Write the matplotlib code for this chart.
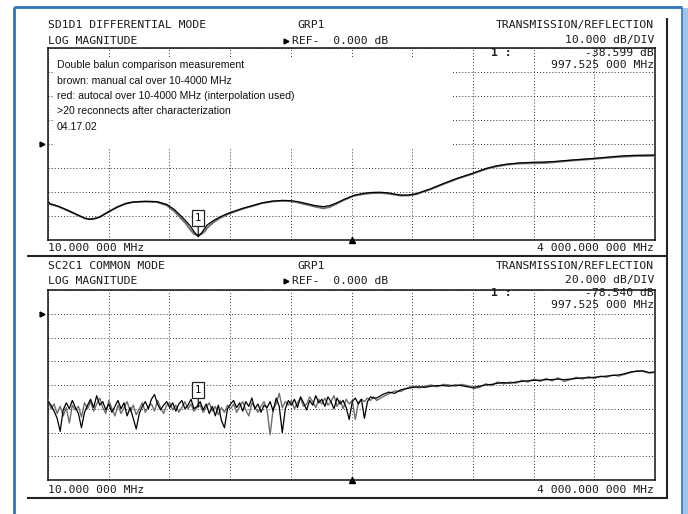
import numpy as np
import matplotlib
matplotlib.use("Agg")
import matplotlib.pyplot as plt
from matplotlib.lines import Line2D
from matplotlib.patches import Rectangle

# ---------------- data ----------------
F_START, F_STOP = 10.0, 4000.0
freq_ticks = np.linspace(F_START, F_STOP, 11)

# upper panel: differential mode, 10 dB/div, ref 0 dB
diff_freq = [10, 25, 45, 80, 135, 180, 220, 255, 286, 320, 352, 400, 463, 520, 569,
             650, 726, 792, 840, 878, 915, 943, 970, 997, 1020, 1042, 1055, 1100, 1141,
             1190, 1226, 1290, 1357, 1420, 1489, 1550, 1601, 1650, 1700, 1760, 1818,
             1860, 1897, 1930, 1956, 2021, 2080, 2133, 2190, 2238, 2290, 2330, 2380,
             2429, 2520, 2613, 2700, 2797, 2850, 2896, 2960, 3027, 3110, 3204, 3270,
             3336, 3450, 3599, 3690, 3776, 3880, 4000]
diff_black = [-24.0, -25.0, -25.3, -26.0, -27.5, -28.8, -30.0, -31.0, -31.4, -31.1,
              -30.4, -28.6, -26.4, -24.9, -24.2, -23.9, -24.0, -25.2, -27.3, -29.6,
              -32.0, -34.0, -36.5, -38.6, -37.0, -35.0, -33.8, -31.8, -30.4, -29.0,
              -28.2, -26.8, -25.6, -24.5, -23.8, -23.5, -23.6, -24.0, -24.7, -25.6,
              -26.1, -25.7, -24.8, -23.9, -23.1, -21.4, -20.6, -20.2, -20.1, -20.3,
              -20.9, -21.3, -21.3, -20.8, -18.8, -16.4, -14.3, -12.3, -11.1, -10.1,
              -9.1, -8.4, -7.9, -7.6, -7.5, -7.3, -6.7, -6.0, -5.5, -5.0, -4.7, -4.6]
diff_gray = [-24.1, -25.1, -25.4, -26.1, -27.6, -28.9, -30.1, -31.0, -31.3, -31.0,
             -30.3, -28.5, -26.3, -24.8, -24.2, -24.0, -24.2, -25.6, -28.0, -30.6,
             -33.0, -35.5, -37.5, -38.0, -37.5, -36.3, -35.0, -32.5, -30.8, -29.3,
             -28.4, -27.0, -25.8, -24.6, -23.9, -23.7, -23.8, -24.3, -25.1, -26.0,
             -26.8, -26.3, -25.2, -24.1, -23.3, -21.6, -20.9, -20.5, -20.4, -20.6,
             -21.1, -21.5, -21.4, -20.9, -19.0, -16.6, -14.5, -12.5, -11.3, -10.3,
             -9.3, -8.6, -8.1, -8.0, -7.9, -7.6, -6.9, -6.2, -5.7, -5.3, -5.0, -4.9]
diff_marker_f, diff_marker_db = 997.525, -38.599

# lower panel: common mode, 20 dB/div, ref 0 dB
cm_noisy_black = [-74, -77, -82, -88, -99, -81, -75, -80, -73, -79,
                  -84, -96, -83, -77, -72, -79, -69, -77, -74, -81,
                  -76, -83, -78, -73, -80, -75, -86, -79, -88, -97,
                  -84, -78, -74, -80, -72, -68, -76, -81, -77, -74,
                  -79, -75, -82, -76, -73, -80, -77, -72, -80, -78,
                  -74, -81, -76, -84, -78, -86, -77, -90, -96, -80,
                  -76, -73, -79, -75, -82, -74, -78, -71, -80, -76,
                  -83, -77, -79, -74, -82, -71, -78, -100, -80, -73,
                  -77, -72, -79, -70, -75, -81, -73, -77, -69, -75,
                  -72, -78, -70, -74, -80, -71, -76, -73, -79, -89,
                  -74, -71, -76, -72, -88, -74, -70, -71]
cm_noisy_gray = [-72, -80, -76, -84, -78, -86, -79, -92, -77, -81,
                 -78, -87, -75, -80, -74, -82, -76, -71, -79, -84,
                 -73, -80, -86, -77, -84, -79, -74, -82, -77, -85,
                 -80, -75, -83, -78, -76, -82, -73, -79, -84, -77,
                 -75, -81, -77, -83, -79, -74, -80, -76, -82, -79,
                 -77, -83, -79, -75, -82, -78, -85, -79, -83, -77,
                 -80, -76, -83, -78, -74, -81, -86, -75, -79, -83,
                 -78, -74, -81, -102, -80, -76, -67, -79, -74, -77,
                 -73, -80, -75, -71, -78, -76, -70, -74, -79, -72,
                 -76, -71, -77, -74, -69, -78, -73, -80, -72, -76,
                 -73, -89, -75, -72, -74, -71, -73, -70]
cm_smooth_black = [-71, -68, -66, -67, -64, -63, -62, -61.5, -62, -61,
                   -60.5, -60.5, -61, -60, -60.5, -61.5, -62, -61, -60, -59.5,
                   -58.5, -58, -58.5, -57.5, -57, -56.5, -56, -56, -55.5, -55.5,
                   -55, -55.5, -55, -54.5, -54, -54, -53.5, -53, -52.5, -52,
                   -51.5, -50.5, -49, -48.5, -48, -49.5, -49]
cm_smooth_gray = [-73, -70, -67.5, -65, -65.5, -62.5, -61, -62.5, -61, -60,
                  -61.5, -59.5, -60, -61, -59.5, -60.5, -63, -62, -59, -60.5,
                  -57.5, -59, -57.5, -58.5, -56, -57.5, -55, -57, -54.5, -56.5,
                  -54, -57, -55.5, -53.5, -55, -53, -54.5, -52.5, -53.5, -51.5,
                  -52.5, -51, -49.5, -48, -48.5, -50, -49.5]
cm_freq = np.concatenate([np.arange(10, 2151, 20), np.linspace(2170, 4000, 47)])
cm_black = cm_noisy_black + cm_smooth_black
cm_gray = cm_noisy_gray + cm_smooth_gray
cm_marker_f, cm_marker_db = 997.525, -78.540

annotation_lines = ["Double balun comparison measurement",
                    "brown: manual cal over 10-4000 MHz",
                    "red: autocal over 10-4000 MHz (interpolation used)",
                    ">20 reconnects after characterization",
                    "04.17.02"]

# ---------------- figure ----------------
W, H = 688, 514
fig = plt.figure(figsize=(W / 100, H / 100), dpi=100)
fig.patch.set_facecolor("white")


def fx(x):
    return x / W


def fy(y):
    return 1 - y / H


MONO = "DejaVu Sans Mono"
MS = 8.2


def mtext(x, y, s, ha="left", bold=False):
    fig.text(fx(x), fy(y), s, ha=ha, va="center", family=MONO, fontsize=MS,
             color="#1a1a1a", fontweight="bold" if bold else "normal")


def fline(xs, ys, color, lw):
    fig.add_artist(Line2D([fx(v) for v in xs], [fy(v) for v in ys],
                          transform=fig.transFigure, color=color, lw=lw,
                          solid_capstyle="butt"))


# blue outer frame
fline([14, 682], [7, 7], "#2f74b5", 2.0)
fline([14, 14], [7, 514], "#2f74b5", 2.0)
fig.add_artist(Rectangle((fx(682), 0), fx(688) - fx(682), fy(8), transform=fig.transFigure,
                         fc="#9fc4e8", ec="none"))
fline([681.5, 681.5], [8, 514], "#2f74b5", 1.2)

# instrument frame
fline([667, 667], [18, 498], "#222222", 1.5)
fline([27, 667], [256, 256], "#222222", 1.5)
fline([27, 668], [498, 498], "#222222", 1.5)


def setup_axes(ax, ylim, ystep):
    ax.set_xlim(F_START, F_STOP)
    ax.set_ylim(*ylim)
    ax.set_xticks(freq_ticks)
    ax.set_yticks(np.arange(ylim[0], ylim[1] + 0.1, ystep))
    ax.tick_params(length=0, labelbottom=False, labelleft=False)
    ax.set_axisbelow(True)
    ax.grid(True, color="#333333", linestyle=(0, (1, 2.2)), linewidth=0.7)
    for sp in ax.spines.values():
        sp.set_linewidth(1.1)
        sp.set_color("#111111")


marker_box = dict(boxstyle="square,pad=0.3", fc="white", ec="#222222", lw=0.9)
marker_stem = dict(arrowstyle="-", color="black", lw=0.8, shrinkA=0, shrinkB=0)

# ----- upper panel -----
ax1 = fig.add_axes([fx(48), fy(240), 607 / W, 192 / H])
setup_axes(ax1, (-40, 40), 10)
ax1.add_patch(Rectangle((0.009, 0.479), 0.657, 0.47, transform=ax1.transAxes,
                        fc="white", ec="none", zorder=1.5))
ax1.plot(diff_freq, diff_gray, color="#6e6e6e", lw=1.4, zorder=3)
ax1.plot(diff_freq, diff_black, color="black", lw=0.9, zorder=3.1)
ax1.annotate("1", xy=(diff_marker_f, diff_marker_db), xytext=(0, 19),
             textcoords="offset pixels", ha="center", va="center", family=MONO,
             fontsize=7.5, bbox=marker_box, arrowprops=marker_stem, zorder=4)
ax1.plot([0.5], [0], marker="^", ms=4, color="black", transform=ax1.transAxes, clip_on=False)

for i, s in enumerate(annotation_lines):
    fig.text(fx(57), fy(65 + 15.5 * i), s, ha="left", va="center",
             family="Liberation Sans", fontsize=7.6, color="#111111")

mtext(48, 25, "SD1D1 DIFFERENTIAL MODE")
mtext(48, 41, "LOG MAGNITUDE")
mtext(297, 25, "GRP1")
mtext(292, 41, "REF-  0.000 dB")
mtext(654, 25, "TRANSMISSION/REFLECTION", ha="right")
mtext(654, 40, "10.000 dB/DIV", ha="right")
mtext(491, 53.5, "1 :", bold=True)
mtext(654, 53.5, "-38.599 dB", ha="right")
mtext(654, 65.5, "997.525 000 MHz", ha="right")
mtext(48, 248, "10.000 000 MHz")
mtext(654, 248, "4 000.000 000 MHz", ha="right")

# ----- lower panel -----
ax2 = fig.add_axes([fx(48), fy(480), 607 / W, 190 / H])
setup_axes(ax2, (-140, 20), 20)
ax2.plot(cm_freq, cm_gray, color="#6e6e6e", lw=1.0, zorder=3)
ax2.plot(cm_freq, cm_black, color="black", lw=0.9, zorder=3.1)
ax2.annotate("1", xy=(cm_marker_f, cm_marker_db), xytext=(0, 17),
             textcoords="offset pixels", ha="center", va="center", family=MONO,
             fontsize=7.5, bbox=marker_box, arrowprops=marker_stem, zorder=4)
ax2.plot([0.5], [0], marker="^", ms=4, color="black", transform=ax2.transAxes, clip_on=False)

mtext(48, 266, "SC2C1 COMMON MODE")
mtext(48, 281, "LOG MAGNITUDE")
mtext(297, 266, "GRP1")
mtext(292, 281, "REF-  0.000 dB")
mtext(654, 266, "TRANSMISSION/REFLECTION", ha="right")
mtext(654, 280, "20.000 dB/DIV", ha="right")
mtext(491, 293.5, "1 :", bold=True)
mtext(654, 293.5, "-78.540 dB", ha="right")
mtext(654, 305.5, "997.525 000 MHz", ha="right")
mtext(48, 490, "10.000 000 MHz")
mtext(654, 490, "4 000.000 000 MHz", ha="right")

# reference-level arrows (left of each grid) and REF arrows in headers
for (x, y) in [(42, 144), (42, 313.75), (286, 41), (286, 281)]:
    fig.add_artist(Line2D([fx(x)], [fy(y)], marker=">", ms=3.5, color="black",
                          transform=fig.transFigure, lw=0))

fig.savefig("out.png", dpi=100, facecolor="white")
